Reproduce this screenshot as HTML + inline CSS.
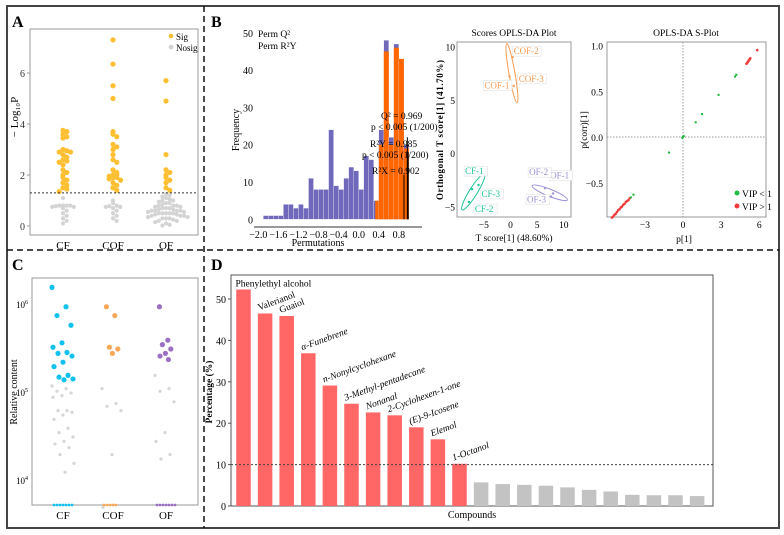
<!DOCTYPE html>
<html><head><meta charset="utf-8"><style>
html,body{margin:0;padding:0;background:#fff;}
svg{display:block;font-family:"Liberation Serif",serif;}
</style></head><body>
<svg id="fig" width="784" height="535" viewBox="0 0 784 535">
<rect x="7" y="6" width="772" height="522" fill="none" stroke="#444" stroke-width="2"/>
<line x1="204" y1="6" x2="204" y2="528" stroke="#111" stroke-width="1.5" stroke-dasharray="6,4"/>
<line x1="7" y1="250" x2="779" y2="250" stroke="#111" stroke-width="1.5" stroke-dasharray="6,4"/>
<text x="12" y="27" font-size="16" font-weight="bold">A</text>
<text x="211" y="27" font-size="16" font-weight="bold">B</text>
<text x="12" y="270" font-size="16" font-weight="bold">C</text>
<text x="211" y="270" font-size="16" font-weight="bold">D</text>
<g id="gA"></g><g id="gB1"></g><g id="gB2"></g><g id="gB3"></g><g id="gC"></g><g id="gD"></g>
</svg>
<script>
// ---------- DATA ----------
const aCats=["CF","COF","OF"];
const aSigCF=[3.75,3.7,3.6,3.5,3.45,3.0,2.95,2.9,2.9,2.8,2.7,2.6,2.55,2.5,2.4,2.2,2.1,2.0,1.9,1.8,1.7,1.6,1.5,1.45,1.35];
const aSigCOF=[7.3,6.35,5.5,5.0,3.7,3.6,3.5,3.2,3.1,3.0,2.8,2.6,2.5,2.2,2.1,2.0,2.0,1.95,1.9,1.9,1.85,1.8,1.7,1.6,1.5,1.4];
const aSigOF=[5.7,4.9,2.8,2.2,2.1,2.0,1.9,1.8,1.7,1.5,1.4];
const aNsCF=[1.1,0.8,0.8,0.8,0.8,0.78,0.75,0.75,0.7,0.6,0.5,0.4,0.3,0.2,0.1];
const aNsCOF=[1.0,0.9,0.8,0.78,0.75,0.75,0.7,0.6,0.5,0.4,0.3,0.2];
const aNsOF=[1.25,1.2,1.15,1.1,1.05,1.0,1.0,0.95,0.9,0.9,0.85,0.8,0.8,0.8,0.75,0.75,0.7,0.7,0.7,0.65,0.65,0.6,0.6,0.6,0.6,0.55,0.55,0.5,0.5,0.5,0.5,0.5,0.45,0.45,0.4,0.4,0.4,0.35,0.35,0.3,0.3,0.3,0.25,0.2,0.2,0.15,0.1,0.05,0.02];
const aTicks=[0,2,4,6];
const aThreshold=1.3;
const hBinStart=[-1.9,-1.8,-1.7,-1.6,-1.5,-1.4,-1.3,-1.2,-1.1,-1.0,-0.9,-0.8,-0.7,-0.6,-0.5,-0.4,-0.3,-0.2,-0.1,0.0,0.1,0.2,0.3,0.4,0.5,0.6,0.7,0.8,0.9];
const hBlue=[1,1,1,1,4,4,3,4,3,11,8,8,8,24,9,8,11,14,13,8,17,16,5,24,48,22,47,43,20];
const hOrange=[0,0,0,0,0,0,0,0,0,0,0,0,0,0,0,0,0,0,0,0,0,0,5,20,45,20,46,43,19];
const hXTicks=[-2.0,-1.6,-1.2,-0.8,-0.4,0.0,0.4,0.8];
const hYTicks=[0,10,20,30,40,50];
const sLabels=["CF-1","CF-2","CF-3","COF-1","COF-2","COF-3","OF-1","OF-2","OF-3"];
const sX=[-7.2,-7.8,-6.0,-0.2,0.4,0.6,8.0,6.5,7.6];
const sY=[-3.4,-4.6,-3.0,7.2,9.0,6.3,-3.8,-3.3,-4.1];
const sXTicks=[-5,0,5,10];
const sYTicks=[-5,0,5,10];
const spRedX=[-5.6,-5.5,-5.4,-5.3,-5.2,-5.1,-5.0,-4.9,-4.8,-4.7,-4.6,-4.5,-4.4,-4.3,-4.2,5.0,5.05,5.1,5.15,5.2,5.25,5.3,5.85];
const spRedY=[-0.88,-0.87,-0.85,-0.84,-0.82,-0.80,-0.79,-0.77,-0.76,-0.74,-0.73,-0.71,-0.70,-0.69,-0.67,0.80,0.81,0.82,0.83,0.84,0.85,0.86,0.95];
const spGreenX=[-3.9,-4.1,-1.1,0.0,0.05,-0.05,1.0,1.5,2.8,4.1,4.2];
const spGreenY=[-0.63,-0.66,-0.17,0.0,0.01,-0.01,0.16,0.25,0.46,0.66,0.68];
const spXTicks=[-3,0,3,6];
const spYTicks=[-0.5,0.0,0.5,1.0];
const cCats=["CF","COF","OF"];
const cSigCF=[6.2,5.98,5.88,5.77,5.57,5.52,5.46,5.45,5.42,5.35,5.3,5.2,5.18,5.16,5.15];
const cSigCOF=[5.98,5.88,5.52,5.5,5.45];
const cSigOF=[5.98,5.6,5.55,5.5,5.45,5.42,5.38];
const cNsCF=[5.08,5.05,5.02,5.0,4.97,4.95,4.8,4.8,4.78,4.75,4.7,4.6,4.55,4.5,4.45,4.42,4.38,4.3,4.2,4.1];
const cNsCOF=[5.05,4.88,4.85,4.8,4.3,3.7];
const cNsOF=[5.2,5.05,5.02,4.9,4.55,4.45,4.3,4.25];
const cZeroCF=7, cZeroCOF=5, cZeroOF=7;
const dNames=["Phenylethyl alcohol","Valerianol","Guaiol","α-Funebrene","n-Nonylcyclohexane","3-Methyl-pentadecane","Nonanal","2-Cyclohexen-1-one","(E)-9-Icosene","Elemol","1-Octanol","","","","","","","","","","",""];
const dValues=[52.3,46.5,45.9,36.9,29.1,24.7,22.6,21.9,19.0,16.1,10.2,5.7,5.3,5.1,4.9,4.5,3.9,3.5,2.7,2.6,2.6,2.4];
const dTicks=[0,10,20,30,40,50];
const dThreshold=10;

const NS="http://www.w3.org/2000/svg";
function mk(parent,tag,attrs,text){const e=document.createElementNS(NS,tag);for(const k in attrs)e.setAttribute(k,attrs[k]);if(text!==undefined)e.textContent=text;parent.appendChild(e);return e;}
function swarm(g,vals,cx,yf,r,color,name,step,gap){
  const bins={};
  vals.forEach(v=>{const y=yf(v);const b=Math.round(y/step);bins[b]=(bins[b]||0)+1;const n=bins[b]-1;const off=(n%2?1:-1)*Math.ceil(n/2)*gap;
    const c=mk(g,"circle",{cx:cx+off,cy:y,r:r,fill:color});
    
    });
}

// ---------- PANEL A ----------
(function(){
  const g=document.getElementById("gA");
  const L=30,R=198,T=29,B=235;
  const y=v=>226-v*25.5; const xs=[63,113,166];
  const box=mk(g,"rect",{x:L,y:T,width:R-L,height:B-T,fill:"none",stroke:"#999"});
  
  aTicks.forEach(t=>{const tx=mk(g,"text",{x:L-5,y:y(t)+4,"font-size":10,"text-anchor":"end",fill:"#333"},t);
    
    mk(g,"line",{x1:L-3,x2:L,y1:y(t),y2:y(t),stroke:"#999"});});
  aCats.forEach((c,i)=>{const tx=mk(g,"text",{x:xs[i],y:B+14,"font-size":11,"text-anchor":"middle"},c);
    });
  const t=mk(g,"text",{x:0,y:0,"font-size":11,"text-anchor":"middle",transform:`translate(18,${(T+B)/2-15}) rotate(-90)`},"− Log₁₀P");
  
  [aNsCF,aNsCOF,aNsOF].forEach((a,i)=>swarm(g,a,xs[i],y,2.1,"#d4d4d4","nonsig-point",5,3.6));
  [aSigCF,aSigCOF,aSigOF].forEach((a,i)=>swarm(g,a,xs[i],y,2.6,"#ffbf33","sig-point",5,3.8));
  const th=mk(g,"line",{x1:L,x2:R,y1:y(aThreshold),y2:y(aThreshold),stroke:"#333","stroke-dasharray":"2,2"});
  
  mk(g,"circle",{cx:171,cy:36,r:2.3,fill:"#ffbf33"});
  const l1=mk(g,"text",{x:176,y:40,"font-size":9},"Sig");
  mk(g,"circle",{cx:171,cy:47,r:2.3,fill:"#d0d0d0"});
  const l2=mk(g,"text",{x:176,y:51,"font-size":9},"Nosig");
})();

// ---------- PANEL B histogram ----------
(function(){
  const g=document.getElementById("gB1");
  const x=v=>258.3+(v+2.0)*50.2, y=v=>219.3-v*3.73;
  mk(g,"line",{x1:254,x2:422,y1:227,y2:227,stroke:"#333"});
  hYTicks.forEach(t=>{const tx=mk(g,"text",{x:253,y:y(t)+4,"font-size":10,"text-anchor":"end"},t);
    });
  hXTicks.forEach(t=>{const tx=mk(g,"text",{x:x(t),y:238,"font-size":10,"text-anchor":"middle"},(t<0?"−":"")+Math.abs(t).toFixed(1));
    });
  const xt=mk(g,"text",{x:318,y:246,"font-size":10,"text-anchor":"middle"},"Permutations");
  
  const yt=mk(g,"text",{x:0,y:0,"font-size":10,"text-anchor":"middle",transform:"translate(239,130) rotate(-90)"},"Frequency");
  
  const w=0.1*50.2;
  hBinStart.forEach((s,i)=>{
    const b=mk(g,"rect",{x:x(s),y:y(hBlue[i]),width:w,height:hBlue[i]*3.73,fill:"#7068bb",stroke:"#fff","stroke-width":0.3});
    
    if(hOrange[i]>0){const o=mk(g,"rect",{x:x(s)+(i==22?1.5:0),y:y(hOrange[i]),width:w-(i==22?1.5:0),height:hOrange[i]*3.73,fill:"#ff6600"});
      }
  });
  [[0.969,y(22)],[0.985,y(18)],[0.902,y(12)]].forEach(p=>mk(g,"line",{x1:x(p[0]),x2:x(p[0]),y1:p[1],y2:y(0),stroke:"#000"}));
  const txt=[["Perm Q²",258,37],["Perm R²Y",258,49],["Q² = 0.969",381,119],["p < 0.005 (1/200)",371,130],["R²Y = 0.985",370,147],["p < 0.005 (1/200)",362,158],["R²X = 0.902",372,174]];
  txt.forEach(a=>{const e=mk(g,"text",{x:a[1],y:a[2],"font-size":9.5},a[0]);
    });
})();

// ---------- Scores plot ----------
(function(){
  const g=document.getElementById("gB2");
  const x=v=>510.5+v*5.33, y=v=>153-v*10.65;
  mk(g,"rect",{x:457,y:42,width:114,height:175,fill:"none",stroke:"#999"});
  const tl=mk(g,"text",{x:514,y:36,"font-size":9.5,"text-anchor":"middle"},"Scores OPLS-DA Plot");
  
  sXTicks.forEach(t=>{const e=mk(g,"text",{x:x(t),y:228,"font-size":9.5,"text-anchor":"middle"},(t<0?"−":"")+Math.abs(t));
    });
  sYTicks.forEach(t=>{const e=mk(g,"text",{x:455,y:y(t)+4,"font-size":9.5,"text-anchor":"end"},(t<0?"−":"")+Math.abs(t));
    });
  const xt=mk(g,"text",{x:514,y:241,"font-size":9.5,"text-anchor":"middle"},"T score[1] (48.60%)");
  
  const yt=mk(g,"text",{x:0,y:0,"font-size":9,"font-weight":"bold","text-anchor":"middle",textLength:140,lengthAdjust:"spacing",transform:"translate(443,130) rotate(-90)"},"Orthogonal T score[1] (41.70%)");
  
  const cols=["#1cc49a","#1cc49a","#1cc49a","#f79a4f","#f79a4f","#f79a4f","#9b8fd4","#9b8fd4","#9b8fd4"];
  [[0,3,-58,21,4],[3,6,80,30,3],[6,9,22,19,3.5]].forEach((gr)=>{
    let mx=0,my=0;for(let i=gr[0];i<gr[1];i++){mx+=sX[i];my+=sY[i];}mx/=3;my/=3;
    const e=mk(g,"ellipse",{cx:x(mx),cy:y(my),rx:gr[3],ry:gr[4],fill:"none",stroke:cols[gr[0]],transform:`rotate(${gr[2]} ${x(mx)} ${y(my)})`});
    
  });
  const lo=[[-7,-15],[6,10],[3,12],[-25,12],[1,-3],[5,-4],[-3,-15],[-16,-13],[-24,6]];
  sLabels.forEach((l,i)=>{
    const c=mk(g,"circle",{cx:x(sX[i]),cy:y(sY[i]),r:1.2,fill:cols[i]});
    
    const tx=x(sX[i])+lo[i][0], ty=y(sY[i])+lo[i][1];
    mk(g,"rect",{x:tx-1,y:ty-8,width:l.length*5.3+2,height:10,fill:"#fff",stroke:"#ddd","stroke-width":0.5});
    const t=mk(g,"text",{x:tx,y:ty,"font-size":9,fill:cols[i]},l);
    
  });
})();

// ---------- S-plot ----------
(function(){
  const g=document.getElementById("gB3");
  const x=v=>683+v*12.7, y=v=>137-v*91.5;
  mk(g,"rect",{x:607,y:42,width:159,height:175,fill:"none",stroke:"#999"});
  mk(g,"line",{x1:x(0),x2:x(0),y1:42,y2:217,stroke:"#999","stroke-dasharray":"1.5,1.5"});
  mk(g,"line",{x1:607,x2:766,y1:y(0),y2:y(0),stroke:"#999","stroke-dasharray":"1.5,1.5"});
  const tl=mk(g,"text",{x:686,y:36,"font-size":9.5,"text-anchor":"middle"},"OPLS-DA S-Plot");
  
  spXTicks.forEach(t=>{const e=mk(g,"text",{x:x(t),y:228,"font-size":9.5,"text-anchor":"middle"},(t<0?"−":"")+Math.abs(t));
    });
  spYTicks.forEach(t=>{const e=mk(g,"text",{x:603,y:y(t)+4,"font-size":9.5,"text-anchor":"end"},(t<0?"−":"")+Math.abs(t).toFixed(1));
    });
  const xt=mk(g,"text",{x:684,y:242,"font-size":9.5,"text-anchor":"middle"},"p[1]");
  
  const yt=mk(g,"text",{x:0,y:0,"font-size":9.5,"text-anchor":"middle",transform:"translate(587,130) rotate(-90)"},"p(corr)[1]");
  
  spRedX.forEach((v,i)=>{const c=mk(g,"circle",{cx:x(v),cy:y(spRedY[i]),r:1.3,fill:"#f03c3c"});
    });
  spGreenX.forEach((v,i)=>{const c=mk(g,"circle",{cx:x(v),cy:y(spGreenY[i]),r:1.2,fill:"#22bb44"});
    });
  mk(g,"circle",{cx:737,cy:193,r:2.5,fill:"#22bb44"});
  const a=mk(g,"text",{x:742,y:197,"font-size":9.5},"VIP < 1");
  mk(g,"circle",{cx:737,cy:206,r:2.5,fill:"#f03c3c"});
  const b=mk(g,"text",{x:742,y:210,"font-size":9.5},"VIP > 1");
})();

// ---------- PANEL C ----------
(function(){
  const g=document.getElementById("gC");
  const L=32,R=198,T=278,B=505;
  const y=v=>305-(v-6)*88; const xs=[63,113,166];
  mk(g,"rect",{x:L,y:T,width:R-L,height:B-T,fill:"none",stroke:"#999"});
  [6,5,4].forEach(t=>{const e=mk(g,"text",{x:L-4,y:y(t)+3,"font-size":9,"text-anchor":"end"});
    e.innerHTML=`10<tspan dy="-4" font-size="6">${t}</tspan>`;
    });
  cCats.forEach((c,i)=>{const e=mk(g,"text",{x:xs[i],y:B+14,"font-size":11,"text-anchor":"middle"},c);
    });
  const yt=mk(g,"text",{x:0,y:0,"font-size":10,"text-anchor":"middle",transform:"translate(17,392) rotate(-90)"},"Relative content");
  
  const jit=i=>((i*37)%23-11)*1.0;
  [cNsCF,cNsCOF,cNsOF].forEach((a,k)=>a.forEach((v,i)=>{const c=mk(g,"circle",{cx:xs[k]+jit(i),cy:y(v),r:1.6,fill:"#d6d6d6"});
    }));
  const cc=["#12c2ee","#f9a85a","#9b6fc2"];
  [cSigCF,cSigCOF,cSigOF].forEach((a,k)=>a.forEach((v,i)=>{const c=mk(g,"circle",{cx:xs[k]+(k==0?jit(i):jit(i)*0.6),cy:y(v),r:2.6,fill:cc[k]});
    }));
  [cZeroCF,cZeroCOF,cZeroOF].forEach((n,k)=>{for(let i=0;i<n;i++){const c=mk(g,"circle",{cx:xs[k]-9+i*3,cy:B,r:1.4,fill:cc[k]});
    }});
})();

// ---------- PANEL D ----------
(function(){
  const g=document.getElementById("gD");
  const L=231,R=713,T=275,B=506;
  const y=v=>B-v*4.14; const x=i=>243.5+i*21.6; const bw=14.5;
  const box=mk(g,"rect",{x:L,y:T,width:R-L,height:B-T,fill:"none",stroke:"#555"});
  
  dTicks.forEach(t=>{const e=mk(g,"text",{x:L-5,y:y(t)+4,"font-size":10,"text-anchor":"end"},t);
    
    mk(g,"line",{x1:L-3,x2:L,y1:y(t),y2:y(t),stroke:"#555"});});
  const yt=mk(g,"text",{x:0,y:0,"font-size":9.5,"font-weight":"bold","text-anchor":"middle",transform:"translate(212,392) rotate(-90)"},"Percentage (%)");
  
  const xt=mk(g,"text",{x:472,y:518,"font-size":10,"text-anchor":"middle"},"Compounds");
  
  dValues.forEach((v,i)=>{const sig=v>dThreshold;
    const r=mk(g,"rect",{x:x(i)-bw/2,y:y(v),width:bw,height:v*4.14,fill:sig?"#ff6666":"#c3c3c3"});
    
    if(dNames[i]){const ital=i>=3;const tx=i==0?x(i)-8:x(i)-6;
      const t=mk(g,"text",{x:tx,y:y(v)-3,"font-size":9.5,"font-style":ital?"italic":"normal",transform:i==0?"":`rotate(-20 ${tx} ${y(v)-3})`},dNames[i]);
      }
  });
  const th=mk(g,"line",{x1:L,x2:R,y1:y(dThreshold),y2:y(dThreshold),stroke:"#444","stroke-dasharray":"2,2"});
  
})();
</script>
</body></html>
